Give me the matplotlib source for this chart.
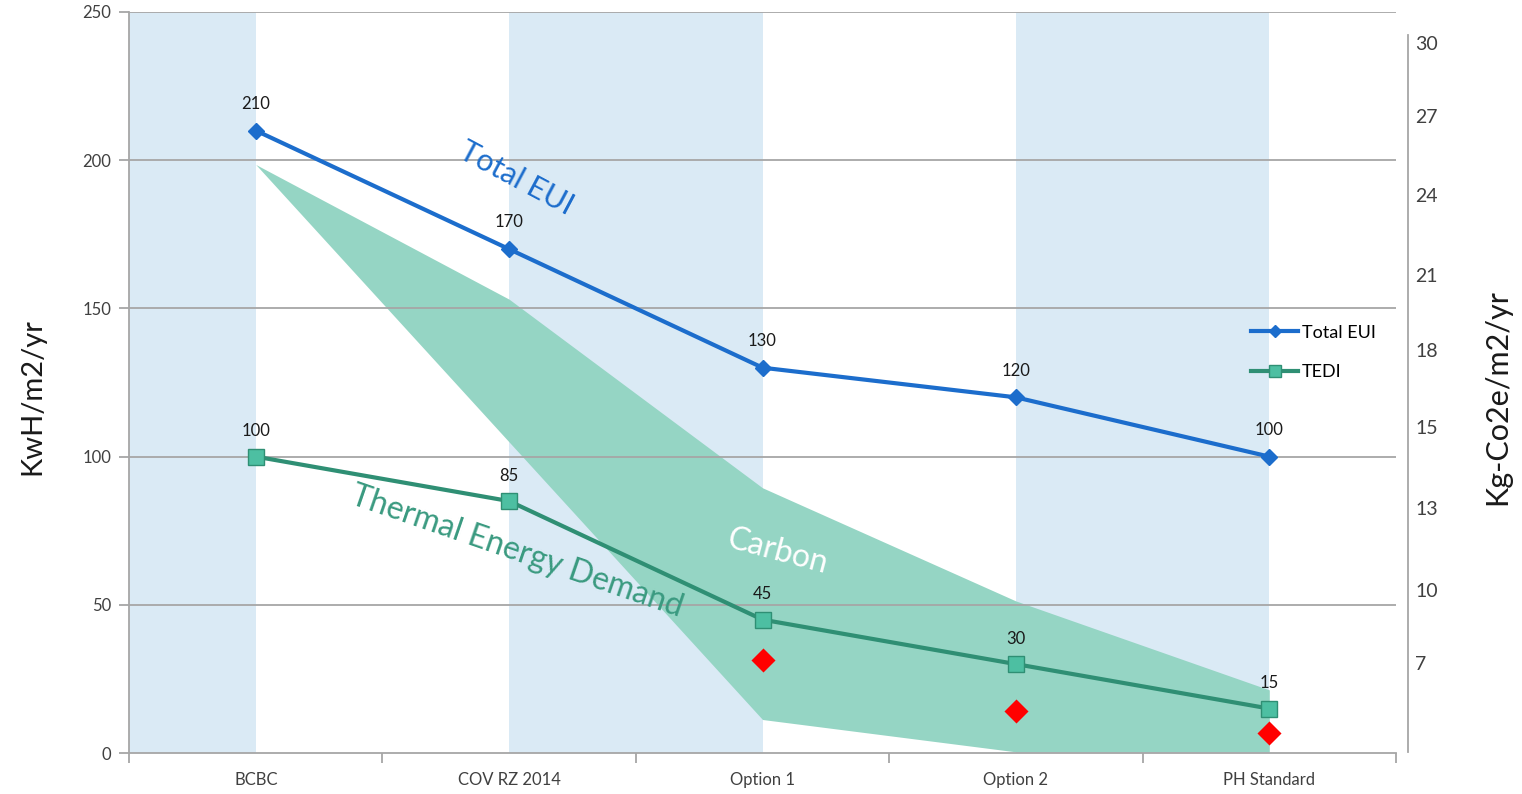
import numpy as np
import matplotlib.pyplot as plt

plt.rcParams['font.family'] = ['Lato', 'DejaVu Sans']

categories = ['BCBC', 'COV RZ 2014', 'Option 1', 'Option 2', 'PH Standard']
total_eui = [210, 170, 130, 120, 100]
tedi = [100, 85, 45, 30, 15]
# carbon band in Kg-CO2e/m2/yr (right axis)
carbon_high = [25.5, 20.5, 13.5, 9.3, 6.0]
carbon_low = [25.5, 15.2, 4.9, 3.7, 3.7]
carbon_points = [7.1, 5.2, 4.4]
right_ticks = [30, 27.3, 24.35, 21.4, 18.6, 15.75, 12.75, 9.7, 7]
right_labels = ['30', '27', '24', '21', '18', '15', '13', '10', '7']

blue = '#1c6dcc'
teal = '#2f8f74'
teal_fill = '#95d5c4'
band = '#daeaf5'
grey = '#a6a6a6'

x = np.arange(len(categories))

fig = plt.figure(figsize=(15.22, 7.94), dpi=100)
ax = fig.add_axes([0.0848, 0.0516, 0.8324, 0.9333])
ax2 = ax.twinx()
# twin axis sits underneath so the grid and lines stay on top of the band
ax.set_zorder(ax2.get_zorder() + 1)
ax.patch.set_visible(False)
ax2.patch.set_visible(True)
ax2.patch.set_facecolor('white')

ax.set_xlim(-0.5, 4.5)
ax.set_ylim(0, 250)
ax2.set_ylim(3.656, 31.16)

for a, b in [(-0.5, 0), (1, 2), (3, 4)]:
    ax2.axvspan(a, b, color=band, lw=0, zorder=0)
ax2.fill_between(x, carbon_low, carbon_high, color=teal_fill, lw=0, zorder=1)

for yv in [50, 100, 150, 200, 250]:
    ax.axhline(yv, color=grey, lw=1.3, zorder=1)

ax.plot(x, total_eui, color=blue, lw=3, marker='D', ms=8, mfc=blue, mec=blue,
        label='Total EUI', zorder=4)
ax.plot(x, tedi, color=teal, lw=3, marker='s', ms=11, mfc='#4dbfa2', mec=teal,
        mew=1, label='TEDI', zorder=4)
ax.scatter(x[2:], carbon_points, marker='D', s=150, color='#ff0000', lw=0,
           transform=ax2.transData, zorder=5)

for xi, v in zip(x, total_eui):
    ax.annotate(str(v), (xi, v), xytext=(0, 13.5), textcoords='offset points',
                ha='center', va='bottom', fontsize=12, color='#1a1a1a')
for xi, v in zip(x, tedi):
    ax.annotate(str(v), (xi, v), xytext=(0, 12.5), textcoords='offset points',
                ha='center', va='bottom', fontsize=12, color='#1a1a1a')

ax.text(1.03, 194, 'Total EUI', color=blue, fontsize=22, rotation=-28,
        ha='center', va='center', rotation_mode='anchor')
ax.text(1.03, 68, 'Thermal Energy Demand', color='#3a9a80', fontsize=23,
        rotation=-19, ha='center', va='center', rotation_mode='anchor')
ax.text(2.06, 68, 'Carbon', color='white', fontsize=23, rotation=-15,
        ha='center', va='center', rotation_mode='anchor')

# axes styling
for s in ['top', 'right']:
    ax.spines[s].set_visible(False)
ax.spines['left'].set_color(grey)
ax.spines['bottom'].set_color(grey)
ax.spines['left'].set_linewidth(1.3)
ax.spines['bottom'].set_linewidth(1.3)
for s in ['top', 'left', 'bottom']:
    ax2.spines[s].set_visible(False)
ax2.spines['right'].set_position(('outward', 9))
ax2.spines['right'].set_bounds(3.7, 30.3)
ax2.spines['right'].set_color(grey)
ax2.spines['right'].set_linewidth(1.3)

ax.set_yticks([0, 50, 100, 150, 200, 250])
ax.tick_params(axis='y', length=7, width=1.3, color=grey, pad=6,
               labelsize=12, labelcolor='#404040')
ax.set_xticks(np.arange(-0.5, 5, 1))
ax.set_xticklabels([])
ax.tick_params(axis='x', which='major', length=7, width=1.3, color=grey)
ax.set_xticks(x, minor=True)
ax.set_xticklabels(categories, minor=True)
ax.tick_params(axis='x', which='minor', length=0, pad=14, labelsize=12,
               labelcolor='#404040')

ax2.set_yticks(right_ticks)
ax2.set_yticklabels(right_labels)
ax2.tick_params(axis='y', length=0, pad=5, labelsize=14, labelcolor='#404040')

fig.text(0.021, 0.5, 'KwH/m2/yr', rotation=90, fontsize=21, ha='center',
         va='center', color='#1a1a1a')
fig.text(0.984, 0.5, 'Kg-Co2e/m2/yr', rotation=90, fontsize=22, ha='center',
         va='center', color='#1a1a1a')

ax.legend(loc='upper left', bbox_to_anchor=(0.873, 0.6), frameon=False,
          fontsize=13, labelspacing=1.3, handlelength=2.6, handletextpad=0.2,
          markerscale=0.8)

fig.savefig('out.png', dpi=100, facecolor='white')
